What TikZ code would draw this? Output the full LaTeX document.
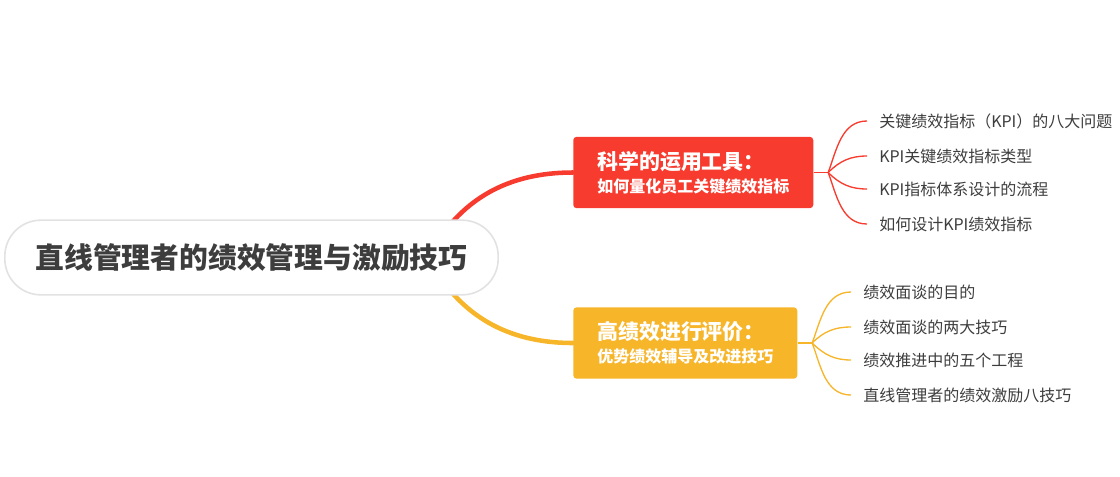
\documentclass[tikz,border=0pt]{standalone}
\usepackage{fontspec}
\setmainfont{Noto Sans CJK SC}
\usetikzlibrary{positioning,backgrounds}

\definecolor{sciRed}{HTML}{F73C2F}
\definecolor{evalGold}{HTML}{F7B52A}
\definecolor{inkGray}{HTML}{3D3D3D}
\definecolor{rimGray}{HTML}{E2E2E2}

\begin{document}
\begin{tikzpicture}[x=0.75pt, y=-0.75pt,
	rootbox/.style={draw=rimGray, line width=1.2pt, fill=white, rounded corners=27pt,
		minimum width=370pt, minimum height=56pt, text=inkGray,
		font=\bfseries\fontsize{21.6}{26}\selectfont},
	topic/.style={anchor=west, rounded corners=2.5pt, text=white, align=left,
		inner xsep=18pt, minimum height=53.5pt, font=\bfseries\fontsize{12}{17}\selectfont},
	leaf/.style={anchor=west, inner xsep=9pt, inner ysep=1pt, text=inkGray,
		font=\fontsize{12}{14}\selectfont},
	trunk/.style={line width=3.4pt, line cap=round},
	twig/.style={line width=1pt}]
	\useasboundingbox (0,0) rectangle (1120,476);

	\node[rootbox] (root) at (251.5,257.5) {直线管理者的绩效管理与激励技巧};
	\node[topic, fill=sciRed] (sci) at (573,172.5)
		{{\fontsize{15.7}{17}\selectfont 科学的运用工具：}\\如何量化员工关键绩效指标};
	\node[topic, fill=evalGold] (eval) at (573,343)
		{{\fontsize{15.7}{17}\selectfont 高绩效进行评价：}\\优势绩效辅导及改进技巧};

	\coordinate (rootHub) at (428,257.5);
	\coordinate[right=11pt of sci.east] (sciHub);
	\coordinate[right=11pt of eval.east] (evalHub);

	\node[leaf] (sciA) at (867,121) {关键绩效指标（KPI）的八大问题};
	\node[leaf] (sciB) at (867,156) {KPI关键绩效指标类型};
	\node[leaf] (sciC) at (867,189) {KPI指标体系设计的流程};
	\node[leaf] (sciD) at (867,224) {如何设计KPI绩效指标};

	\node[leaf] (evalA) at (851,292) {绩效面谈的目的};
	\node[leaf] (evalB) at (851,327) {绩效面谈的两大技巧};
	\node[leaf] (evalC) at (851,360) {绩效推进中的五个工程};
	\node[leaf] (evalD) at (851,395) {直线管理者的绩效激励八技巧};

	\begin{scope}[on background layer]
		\draw[trunk, sciRed] (rootHub) to[out=62, in=180] (sci.west);
		\draw[trunk, evalGold] (rootHub) to[out=-62, in=180] (eval.west);
	\end{scope}

	\path[twig, draw=sciRed] (sci.east) edge (sciHub);
	\path[twig, draw=sciRed] (sciHub) edge[out=70, in=180] (sciA.west);
	\path[twig, draw=sciRed] (sciHub) edge[out=45, in=180] (sciB.west);
	\path[twig, draw=sciRed] (sciHub) edge[out=-45, in=180] (sciC.west);
	\path[twig, draw=sciRed] (sciHub) edge[out=-70, in=180] (sciD.west);

	\path[twig, draw=evalGold] (eval.east) edge (evalHub);
	\path[twig, draw=evalGold] (evalHub) edge[out=70, in=180] (evalA.west);
	\path[twig, draw=evalGold] (evalHub) edge[out=45, in=180] (evalB.west);
	\path[twig, draw=evalGold] (evalHub) edge[out=-45, in=180] (evalC.west);
	\path[twig, draw=evalGold] (evalHub) edge[out=-70, in=180] (evalD.west);
\end{tikzpicture}
\end{document}
